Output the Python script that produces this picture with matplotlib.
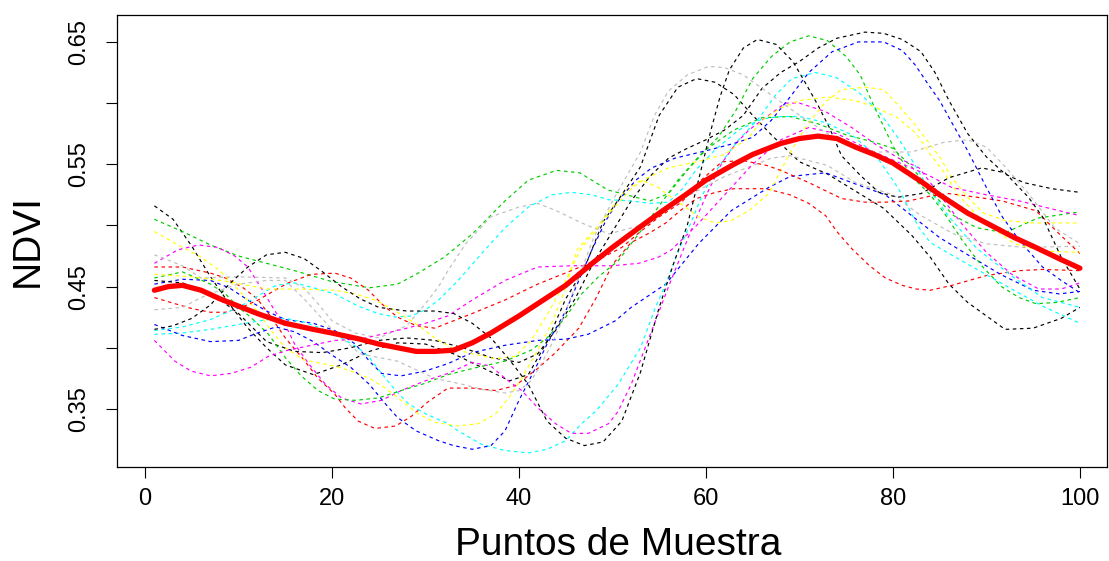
import matplotlib
matplotlib.use("Agg")
import matplotlib.pyplot as plt

# ---------------- data ----------------
# black curves
k1_x = [1, 3, 5, 7, 9, 11, 13, 15, 18, 21, 24, 27, 30, 33, 36, 39, 41, 43, 45, 47, 49, 51, 53, 55, 57, 59, 61, 63, 65, 67, 70, 73, 76, 79, 82, 84, 86, 88, 90, 92, 95, 98, 100]
k1_y = [0.516, 0.505, 0.483, 0.458, 0.436, 0.416, 0.400, 0.386, 0.378, 0.386, 0.397, 0.404, 0.403, 0.395, 0.384, 0.373, 0.378, 0.405, 0.440, 0.465, 0.503, 0.525, 0.548, 0.590, 0.613, 0.620, 0.617, 0.607, 0.590, 0.574, 0.552, 0.542, 0.528, 0.514, 0.492, 0.474, 0.452, 0.437, 0.426, 0.415, 0.416, 0.424, 0.433]
k2_x = [1, 4, 7, 10, 13, 16, 19, 22, 25, 28, 31, 34, 37, 40, 42, 44, 46, 48, 50, 52, 54, 56, 58, 60, 62, 64, 66, 68, 70, 72, 74, 77, 79, 81, 83, 84.5, 86, 88, 90, 92, 94, 97, 100]
k2_y = [0.455, 0.453, 0.445, 0.428, 0.405, 0.397, 0.396, 0.400, 0.406, 0.408, 0.406, 0.400, 0.392, 0.388, 0.395, 0.415, 0.440, 0.470, 0.495, 0.520, 0.540, 0.555, 0.563, 0.570, 0.578, 0.590, 0.612, 0.625, 0.634, 0.645, 0.653, 0.658, 0.657, 0.652, 0.642, 0.625, 0.602, 0.575, 0.556, 0.542, 0.535, 0.530, 0.527]
k3_x = [1, 3, 5, 7, 9, 11, 13, 15, 17, 19, 21, 23, 25, 28, 31, 33, 35, 37, 39, 41, 43, 45, 47, 49, 51, 53, 55, 56.5, 58, 59.3, 60.5, 61.5, 62.5, 64, 65.5, 67.5, 69.3, 70.6, 72, 73.2, 74.5, 76.5, 78.5, 80.5, 83, 86, 89.5, 92, 94.5, 96, 98, 100]
k3_y = [0.415, 0.418, 0.424, 0.435, 0.452, 0.466, 0.476, 0.478, 0.473, 0.462, 0.450, 0.440, 0.433, 0.430, 0.430, 0.428, 0.420, 0.408, 0.390, 0.370, 0.340, 0.326, 0.320, 0.323, 0.340, 0.380, 0.433, 0.468, 0.500, 0.540, 0.577, 0.605, 0.627, 0.645, 0.652, 0.648, 0.634, 0.617, 0.598, 0.580, 0.557, 0.541, 0.527, 0.523, 0.526, 0.539, 0.547, 0.543, 0.523, 0.507, 0.474, 0.448]

# red curves
r1_x = [1, 4, 7, 8.6, 10.5, 12, 13.5, 15, 17, 18.5, 20.3, 21.4, 22.8, 24.6, 26.8, 28.5, 30.3, 32.4, 35, 37.5, 39.6, 42, 43.9, 46.4, 48.2, 50, 52, 54, 55.7, 57.4, 59, 61, 63, 66.4, 69, 71, 72.8, 74, 75.6, 77.5, 79.2, 81, 82.5, 84, 86.3, 90, 93.5, 96, 100]
r1_y = [0.466, 0.466, 0.461, 0.457, 0.449, 0.440, 0.425, 0.408, 0.390, 0.375, 0.362, 0.351, 0.340, 0.334, 0.336, 0.344, 0.356, 0.367, 0.367, 0.365, 0.369, 0.383, 0.396, 0.416, 0.440, 0.468, 0.486, 0.494, 0.502, 0.513, 0.522, 0.527, 0.530, 0.530, 0.525, 0.518, 0.508, 0.495, 0.481, 0.467, 0.457, 0.451, 0.448, 0.447, 0.451, 0.459, 0.463, 0.464, 0.463]
r2_x = [1, 3.2, 5, 7, 8.6, 10.3, 12.1, 13.9, 15.3, 17.8, 20.3, 22, 23.9, 25.3, 27, 29, 31, 33, 35, 38.5, 42, 45.6, 49, 51, 53, 55, 57.4, 59.5, 61.7, 64, 66.5, 68, 71, 74.5, 77, 79.2, 81.7, 84, 86, 89, 91.7, 95.3, 97.8, 100]
r2_y = [0.441, 0.436, 0.432, 0.429, 0.429, 0.433, 0.439, 0.447, 0.453, 0.460, 0.461, 0.457, 0.447, 0.436, 0.425, 0.418, 0.416, 0.422, 0.428, 0.439, 0.452, 0.463, 0.474, 0.482, 0.495, 0.507, 0.519, 0.537, 0.552, 0.553, 0.549, 0.545, 0.535, 0.522, 0.519, 0.519, 0.520, 0.524, 0.526, 0.523, 0.520, 0.512, 0.493, 0.477]

# green curves
g1_x = [1, 4, 7, 10, 13, 16, 20, 24, 27, 29, 32, 35, 38.5, 41, 44, 46.5, 49.5, 52, 54, 56, 58, 60, 63, 66, 69, 72, 75, 78, 80, 82, 84, 86.5, 89, 92, 95.5, 100]
g1_y = [0.505, 0.495, 0.484, 0.475, 0.469, 0.463, 0.454, 0.449, 0.452, 0.460, 0.474, 0.493, 0.520, 0.537, 0.545, 0.543, 0.529, 0.524, 0.520, 0.526, 0.545, 0.562, 0.578, 0.588, 0.589, 0.583, 0.574, 0.568, 0.563, 0.548, 0.528, 0.508, 0.498, 0.494, 0.506, 0.511]
g2_x = [1, 4, 7, 8.6, 10, 11.3, 13.2, 15, 16.7, 18.5, 20.3, 22.5, 25, 27.4, 30, 32.4, 35, 38.5, 41.3, 43, 45, 46.7, 48.5, 50.6, 52.8, 54.9, 57, 59.2, 61.3, 63.2, 65, 67, 69, 71, 73, 75, 76.5, 78, 80, 82, 84, 85.5, 87.4, 89.5, 91.6, 93.5, 95.3, 97.5, 100]
g2_y = [0.457, 0.462, 0.452, 0.444, 0.433, 0.425, 0.411, 0.392, 0.377, 0.365, 0.358, 0.357, 0.359, 0.365, 0.371, 0.378, 0.383, 0.389, 0.398, 0.408, 0.425, 0.444, 0.458, 0.471, 0.493, 0.515, 0.537, 0.556, 0.572, 0.594, 0.620, 0.638, 0.650, 0.655, 0.651, 0.638, 0.623, 0.597, 0.565, 0.540, 0.525, 0.510, 0.488, 0.467, 0.450, 0.441, 0.436, 0.437, 0.441]

# blue curves
b1_x = [1, 4, 7, 9, 11, 13, 15, 18, 20.3, 22.5, 24, 25.3, 27.4, 30, 32.4, 35, 38.5, 42, 45, 47.4, 50.3, 52, 55.7, 59.2, 62.7, 66.7, 69, 72.8, 76.3, 79.2, 82, 85, 88, 91.5, 95, 97.8, 100]
b1_y = [0.452, 0.456, 0.455, 0.449, 0.439, 0.430, 0.423, 0.420, 0.414, 0.403, 0.389, 0.379, 0.377, 0.381, 0.387, 0.396, 0.402, 0.406, 0.407, 0.411, 0.422, 0.433, 0.452, 0.485, 0.512, 0.531, 0.540, 0.543, 0.533, 0.525, 0.508, 0.490, 0.476, 0.460, 0.447, 0.444, 0.446]
b2_x = [1, 4, 7, 10, 12, 14, 16, 18, 20, 22, 24, 25.5, 27, 29, 31.4, 33, 35, 37, 38.5, 40, 42, 43, 45, 46.4, 47.8, 49.3, 50.6, 52.5, 54.2, 56.7, 60, 63, 65, 67, 69, 71, 73.5, 76.3, 79, 81, 82.4, 83.8, 85, 86.3, 88, 90, 91.7, 93.5, 96, 98, 100]
b2_y = [0.419, 0.410, 0.405, 0.406, 0.412, 0.417, 0.413, 0.405, 0.394, 0.384, 0.370, 0.356, 0.343, 0.332, 0.324, 0.320, 0.317, 0.320, 0.332, 0.357, 0.387, 0.403, 0.430, 0.455, 0.480, 0.504, 0.520, 0.537, 0.547, 0.555, 0.561, 0.567, 0.572, 0.586, 0.605, 0.625, 0.642, 0.650, 0.650, 0.643, 0.631, 0.615, 0.602, 0.584, 0.561, 0.531, 0.507, 0.488, 0.466, 0.455, 0.445]

# cyan curves
c1_x = [1, 4, 7, 10, 13, 15, 17, 18.8, 21, 22.8, 24, 25.3, 26.8, 28.2, 30, 32.4, 33.5, 36, 38.5, 41, 43, 45, 46.7, 48.2, 50.6, 53, 54.6, 55.7, 57.1, 58.5, 59.5, 60.6, 62.1, 63.5, 65.6, 67.5, 69.2, 71.7, 73.9, 76.3, 78.5, 80.6, 82.4, 83.8, 86, 89, 93, 96, 100]
c1_y = [0.411, 0.412, 0.415, 0.419, 0.423, 0.424, 0.421, 0.416, 0.408, 0.400, 0.392, 0.379, 0.365, 0.354, 0.346, 0.338, 0.332, 0.321, 0.316, 0.314, 0.317, 0.324, 0.338, 0.348, 0.370, 0.400, 0.433, 0.452, 0.480, 0.504, 0.523, 0.539, 0.556, 0.570, 0.587, 0.607, 0.620, 0.625, 0.621, 0.609, 0.593, 0.571, 0.549, 0.530, 0.507, 0.481, 0.457, 0.441, 0.433]
c2_x = [1, 4, 7, 10, 12, 14, 16, 18, 20.3, 22.8, 24.9, 26.8, 28.5, 30, 31.4, 33.5, 36, 38.5, 41, 43.5, 45.6, 47.8, 49.6, 52, 54, 56, 57.5, 59, 61, 63.5, 66, 68, 70, 72.8, 75.6, 78.2, 80.6, 82.8, 84, 86, 89, 92, 96, 100]
c2_y = [0.414, 0.417, 0.423, 0.433, 0.442, 0.451, 0.453, 0.449, 0.444, 0.434, 0.428, 0.425, 0.426, 0.431, 0.439, 0.455, 0.477, 0.498, 0.515, 0.525, 0.527, 0.525, 0.521, 0.520, 0.518, 0.519, 0.530, 0.546, 0.562, 0.578, 0.587, 0.589, 0.589, 0.584, 0.574, 0.557, 0.530, 0.498, 0.486, 0.477, 0.464, 0.451, 0.434, 0.420]

# magenta curves
m1_x = [1, 3.5, 5.7, 7.8, 9.6, 11, 12.4, 13.9, 15.3, 16, 17.5, 19.3, 21, 23.1, 25.3, 27.4, 30, 32.4, 35, 37, 38.5, 40.3, 42, 43.9, 45.6, 47.4, 49.6, 50.6, 52, 54, 56, 57.1, 58.1, 59.2, 60.3, 61.7, 63.2, 64.6, 66.7, 68.5, 70, 72.8, 75.6, 78.2, 80.6, 82.8, 85, 87.5, 90, 92.7, 95.6, 98, 100]
m1_y = [0.469, 0.480, 0.484, 0.482, 0.475, 0.466, 0.449, 0.430, 0.414, 0.403, 0.387, 0.370, 0.359, 0.354, 0.357, 0.365, 0.373, 0.379, 0.388, 0.385, 0.375, 0.365, 0.351, 0.338, 0.330, 0.330, 0.338, 0.348, 0.370, 0.410, 0.450, 0.471, 0.490, 0.510, 0.529, 0.551, 0.567, 0.578, 0.590, 0.600, 0.600, 0.593, 0.580, 0.566, 0.555, 0.547, 0.525, 0.500, 0.478, 0.460, 0.448, 0.448, 0.453]
m2_x = [1, 3.2, 4.9, 7, 9.2, 11.3, 13.2, 15.3, 17.8, 20.3, 23, 25.3, 28, 30, 32.4, 35, 38.5, 42, 45.6, 50, 52.8, 54.9, 56.3, 59, 62, 65, 68, 71, 74, 78, 83.8, 86.3, 90, 93.5, 97.8, 100]
m2_y = [0.406, 0.389, 0.381, 0.377, 0.379, 0.384, 0.393, 0.398, 0.402, 0.406, 0.407, 0.411, 0.416, 0.420, 0.426, 0.439, 0.455, 0.466, 0.467, 0.467, 0.469, 0.474, 0.480, 0.500, 0.525, 0.550, 0.570, 0.580, 0.575, 0.560, 0.541, 0.531, 0.525, 0.520, 0.512, 0.508]

# yellow curves
y1_x = [1, 4, 6, 8, 10, 12, 13.5, 15, 17, 20.3, 22, 24, 25.7, 27.4, 29.2, 31, 33.5, 35.7, 37.5, 38.9, 40.3, 42, 43.5, 44.5, 45.3, 46.2, 48.5, 50, 51.4, 53.1, 54.9, 56.3, 57.8, 59.2, 61, 62.7, 64.6, 66.7, 68, 69.5, 71, 72.8, 74.5, 77, 79, 80.6, 82.4, 83.8, 85, 86.3, 88, 89.7, 92, 95, 100]
y1_y = [0.495, 0.482, 0.474, 0.463, 0.447, 0.430, 0.414, 0.400, 0.390, 0.385, 0.381, 0.375, 0.367, 0.357, 0.346, 0.339, 0.336, 0.338, 0.346, 0.359, 0.375, 0.398, 0.420, 0.439, 0.457, 0.480, 0.500, 0.515, 0.529, 0.537, 0.531, 0.523, 0.515, 0.507, 0.502, 0.504, 0.512, 0.526, 0.545, 0.566, 0.584, 0.601, 0.611, 0.613, 0.611, 0.598, 0.582, 0.568, 0.556, 0.539, 0.523, 0.510, 0.504, 0.502, 0.502]
y2_x = [1, 5, 9, 13, 16.7, 20.3, 22.5, 24.6, 26.8, 28.9, 31, 33, 35, 37.5, 39.6, 41.3, 43.1, 45, 46.7, 48.5, 50, 52, 53.5, 56, 59, 62, 64.6, 66, 68, 70, 73, 76, 78, 80.5, 82.5, 84, 85.5, 87, 89, 91, 93, 96, 100]
y2_y = [0.460, 0.458, 0.454, 0.448, 0.448, 0.447, 0.444, 0.439, 0.430, 0.420, 0.408, 0.399, 0.395, 0.391, 0.393, 0.406, 0.428, 0.455, 0.482, 0.498, 0.513, 0.530, 0.538, 0.547, 0.552, 0.558, 0.572, 0.586, 0.596, 0.602, 0.605, 0.602, 0.597, 0.588, 0.575, 0.558, 0.543, 0.525, 0.508, 0.496, 0.485, 0.479, 0.478]

# gray curves
gr1_x = [1, 4, 6, 10, 15, 17, 18.5, 20, 22.5, 25, 28, 30, 31.4, 32.4, 34.3, 37, 40, 42, 44, 46.7, 49.6, 53, 57, 62, 67, 69, 73, 76, 80, 83, 86.5, 90, 94, 100]
gr1_y = [0.476, 0.467, 0.457, 0.458, 0.457, 0.449, 0.436, 0.422, 0.412, 0.408, 0.418, 0.436, 0.450, 0.463, 0.485, 0.507, 0.515, 0.518, 0.512, 0.502, 0.493, 0.500, 0.520, 0.540, 0.555, 0.557, 0.549, 0.535, 0.525, 0.508, 0.493, 0.485, 0.482, 0.483]
gr2_x = [1, 4, 6, 8, 10, 13, 15, 17, 20, 23, 27, 31, 34, 36, 38.5, 40, 41.3, 42.4, 43.5, 44.5, 46, 48, 50, 51.5, 53, 54.5, 56, 58, 60.3, 62, 64, 66, 70, 74, 78, 82, 85.5, 88, 90, 92, 94.5, 97.3, 100]
gr2_y = [0.431, 0.433, 0.441, 0.447, 0.452, 0.455, 0.455, 0.440, 0.415, 0.395, 0.389, 0.375, 0.370, 0.366, 0.363, 0.365, 0.373, 0.387, 0.403, 0.420, 0.450, 0.490, 0.520, 0.540, 0.560, 0.590, 0.610, 0.623, 0.630, 0.629, 0.623, 0.612, 0.590, 0.570, 0.560, 0.560, 0.568, 0.570, 0.564, 0.548, 0.526, 0.498, 0.485]

# mean curve (thick red)
mean_x = [1, 2.5, 4, 6, 8, 10, 12, 15, 18, 20, 23, 25, 27, 29, 31, 33, 35, 37, 40, 43, 45, 48, 50, 53, 55, 58, 60, 63, 65, 68, 70, 72, 74, 76, 78, 80, 83, 85, 88, 90, 93, 95, 98, 100]
mean_y = [0.447, 0.450, 0.451, 0.447, 0.440, 0.434, 0.428, 0.420, 0.415, 0.412, 0.407, 0.403, 0.400, 0.397, 0.397, 0.398, 0.404, 0.412, 0.426, 0.441, 0.451, 0.470, 0.482, 0.499, 0.510, 0.526, 0.537, 0.550, 0.558, 0.567, 0.571, 0.573, 0.571, 0.564, 0.558, 0.551, 0.536, 0.525, 0.510, 0.502, 0.490, 0.483, 0.472, 0.465]

x_ticks = [0, 20, 40, 60, 80, 100]
y_ticks = [0.35, 0.40, 0.45, 0.50, 0.55, 0.60, 0.65]
y_tick_labels = ["0.35", "", "0.45", "", "0.55", "", "0.65"]
x_label = "Puntos de Muestra"
y_label = "NDVI"

# ---------------- styling ----------------
W, H = 1109, 561
plt.rcParams['font.family'] = ['Liberation Sans', 'DejaVu Sans']
fig = plt.figure(figsize=(W / 100, H / 100), dpi=100)
ax = fig.add_axes([117 / W, 1 - 467 / H, (1107 - 117) / W, (467 - 15) / H])

R_COL = {
    'black': '#000000', 'red': '#FF0000', 'green': '#00CD00', 'blue': '#0000FF',
    'cyan': '#00FFFF', 'magenta': '#FF00FF', 'yellow': '#FFFF00', 'gray': '#BEBEBE',
}
series = [
    (k1_x, k1_y, 'black'), (r1_x, r1_y, 'red'), (g1_x, g1_y, 'green'), (b1_x, b1_y, 'blue'),
    (c1_x, c1_y, 'cyan'), (m1_x, m1_y, 'magenta'), (y1_x, y1_y, 'yellow'), (gr1_x, gr1_y, 'gray'),
    (k2_x, k2_y, 'black'), (r2_x, r2_y, 'red'), (g2_x, g2_y, 'green'), (b2_x, b2_y, 'blue'),
    (c2_x, c2_y, 'cyan'), (m2_x, m2_y, 'magenta'), (y2_x, y2_y, 'yellow'), (gr2_x, gr2_y, 'gray'),
    (k3_x, k3_y, 'black'),
]
for xs, ys, c in series:
    ax.plot(xs, ys, color=R_COL[c], lw=0.85, linestyle=(0, (3, 3)), solid_joinstyle='round')

ax.plot(mean_x, mean_y, color='#FF0000', lw=3.8, solid_capstyle='round', zorder=5)

ax.set_xlim(-3.0, 102.9)
ax.set_ylim(0.3025, 0.672)
ax.set_xticks(x_ticks)
ax.set_xticklabels([str(t) for t in x_ticks])
ax.set_yticks(y_ticks)
ax.set_yticklabels(y_tick_labels, rotation=90, va='center')
ax.tick_params(axis='both', direction='out', length=8, width=0.8, labelsize=17, colors='black')
ax.tick_params(axis='x', pad=7)
ax.tick_params(axis='y', pad=11)
for s in ax.spines.values():
    s.set_linewidth(0.9)
    s.set_color('black')

fig.text(618 / W, 1 - 555 / H, x_label, ha='center', va='baseline', fontsize=28)
fig.text(27.5 / W, 1 - 241 / H, y_label, ha='center', va='center', rotation=90, fontsize=28)

fig.savefig('out.png', dpi=100)
